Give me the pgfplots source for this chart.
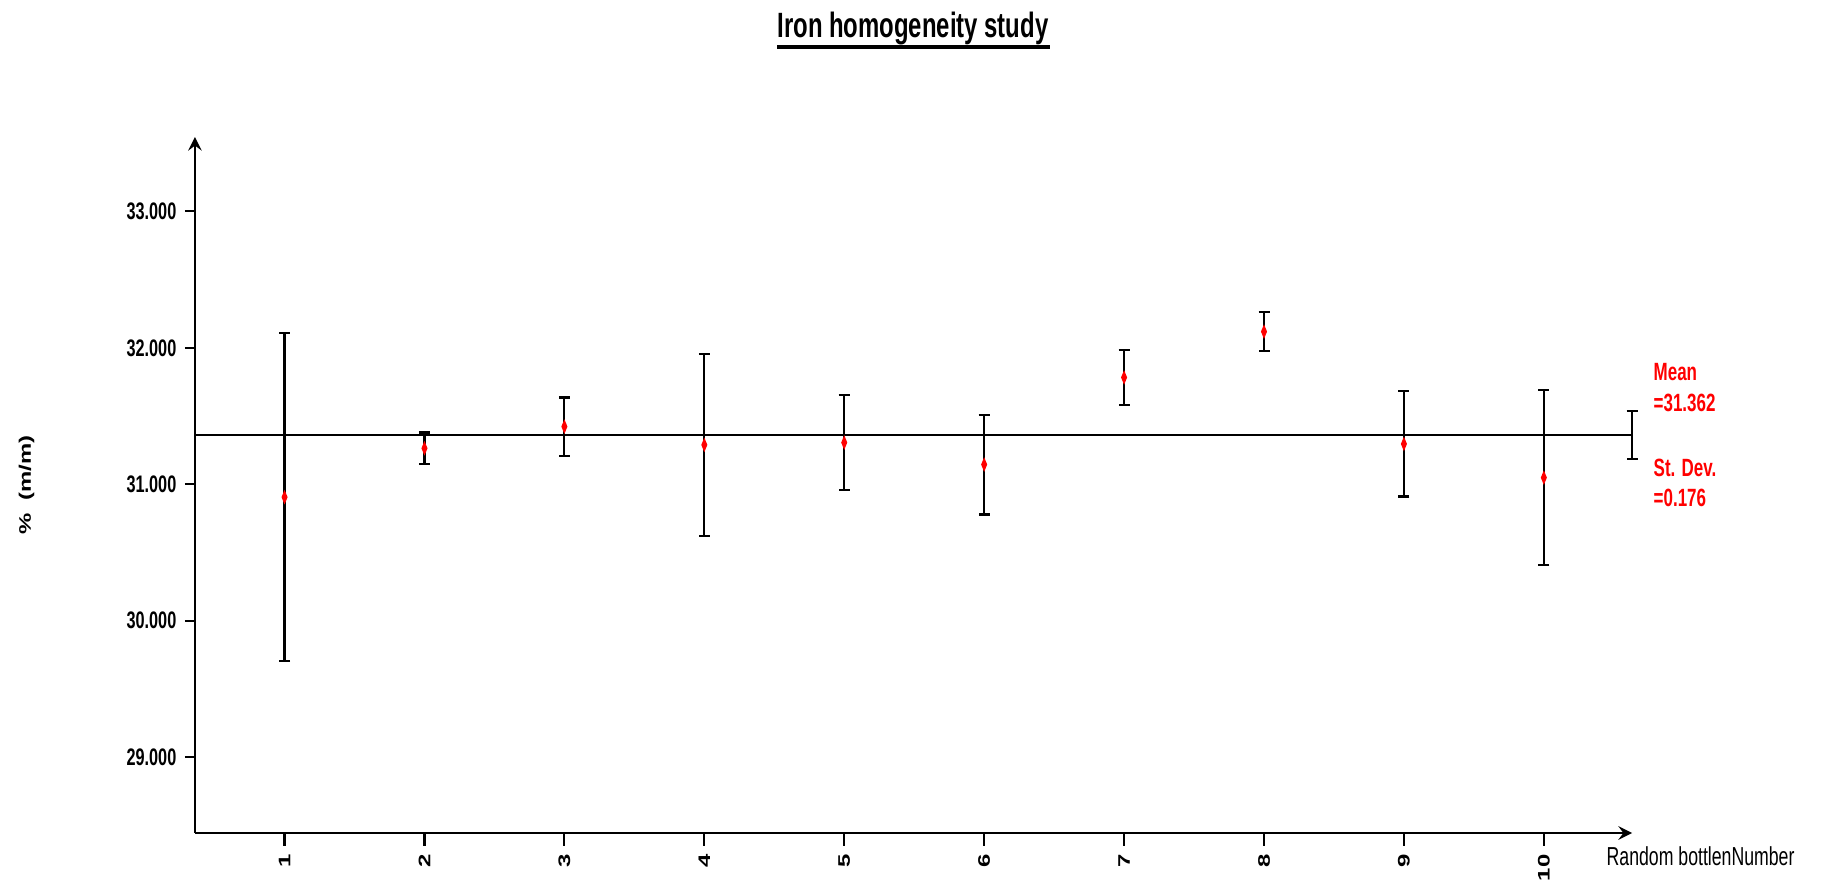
\documentclass[border=0pt]{standalone}
\usepackage{fontspec}
\setmainfont{Liberation Sans}[FakeStretch=0.68]
\newfontfamily\plainfont{Liberation Sans}
\usepackage{pgfplots}
\pgfplotsset{compat=1.18}
\definecolor{annred}{RGB}{255,0,0}
\begin{document}
\begin{tikzpicture}[x=1mm,y=1mm]
\useasboundingbox (-19.5,-5.6) rectangle (162.6,83.3);
\begin{axis}[
  at={(0,0)}, anchor=south west,
  scale only axis, width=143.7mm, height=69.6mm,
  xmin=0.36, xmax=10.63, ymin=28.445, ymax=33.545,
  clip=false,
  axis lines=left,
  axis line style={line width=0.7pt},
  xtick={1,...,10}, ytick={29,...,33},
  tick align=outside,
  xtick style={black, line width=0.6pt, /pgfplots/major tick length=1.3mm},
  ytick style={black, line width=0.6pt, /pgfplots/major tick length=1mm},
  xticklabel={\pgfmathtruncatemacro\tk{\tick}\scalebox{1}[0.7]{\tk}},
  xticklabel style={rotate=90, anchor=east, inner sep=0.6mm, font=\plainfont\bfseries\fontsize{6.8}{8}\selectfont},
  yticklabel style={/pgf/number format/.cd, fixed, zerofill, precision=3, assume math mode=true, /tikz/.cd, inner sep=0.3mm, font=\bfseries\fontsize{6.8}{8}\selectfont},
]
% mean line
\addplot[black, line width=0.8pt, forget plot] coordinates {(0.36,31.362) (10.63,31.362)};
% mean +- st dev bar
\addplot[draw=none, mark=none, forget plot,
  error bars/.cd, y dir=both, y explicit,
  error bar style={black, line width=0.6pt},
  error mark options={rotate=90, mark size=0.55mm, black, line width=0.6pt}]
  coordinates {(10.63,31.362) +- (0,0.176)};
% bottles
\addplot[only marks, mark=diamond*, color=annred, mark size=0.55mm,
  mark options={xscale=0.55, draw=annred, fill=annred},
  error bars/.cd, y dir=both, y explicit,
  error bar style={black, line width=0.6pt},
  error mark options={rotate=90, mark size=0.55mm, black, line width=0.6pt}]
  coordinates {
  (1,30.906) +- (0,1.203)
  (2,31.264) +- (0,0.116)
  (3,31.423) +- (0,0.213)
  (4,31.289) +- (0,0.668)
  (5,31.306) +- (0,0.350)
  (6,31.145) +- (0,0.366)
  (7,31.783) +- (0,0.204)
  (8,32.119) +- (0,0.143)
  (9,31.296) +- (0,0.385)
  (10,31.049) +- (0,0.643)
  };
\end{axis}
% title
\node[anchor=base, inner sep=0pt, font=\bfseries\fontsize{10}{12}\selectfont] at (71.8,79.5) {Iron homogeneity study};
\draw[line width=0.4mm] (58.2,78.6) -- (85.5,78.6);
% y label
\node[rotate=90, font=\plainfont\bfseries\fontsize{6.8}{8}\selectfont] at (-16.85,34.8) {\scalebox{1}[0.7]{\%\ \ (m/m)}};
% x label
\node[anchor=west, inner sep=0pt, font=\fontsize{7.4}{9}\selectfont] at (141.1,-2.3) {Random bottlenNumber};
% annotations
\begin{scope}[every node/.style={anchor=west, inner sep=0pt, text=annred, font=\bfseries\fontsize{7.1}{9}\selectfont}]
\node at (145.8,46.1) {Mean};
\node at (145.8,43.0) {=31.362};
\node at (145.8,36.5) {St. Dev.};
\node at (145.8,33.5) {=0.176};
\end{scope}
\end{tikzpicture}
\end{document}
